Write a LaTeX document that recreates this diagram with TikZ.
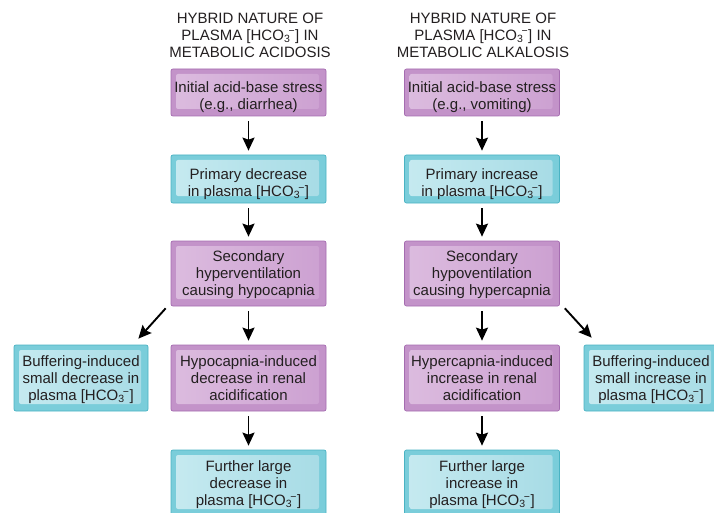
\documentclass[tikz,border=0pt]{standalone}
\usepackage{fontspec}
\setmainfont{Liberation Sans}
\usetikzlibrary{arrows.meta}

\definecolor{textgray}{HTML}{231F20}
\definecolor{purpleedge}{HTML}{A56CB0}
\definecolor{purpleouter}{HTML}{C393C9}
\definecolor{purpleinnerA}{HTML}{DCBCDF}
\definecolor{purpleinnerB}{HTML}{CCA0D1}
\definecolor{cyanedge}{HTML}{4AB3C3}
\definecolor{cyanouter}{HTML}{7ACDDA}
\definecolor{cyaninnerA}{HTML}{C6EAF0}
\definecolor{cyaninnerB}{HTML}{A6DBE5}

\newcommand{\bicarb}{[HCO\textsubscript{3}\kern-0.12em\textsuperscript{−}]}

\begin{document}
\begin{tikzpicture}[x=1pt,y=-1pt,
    font=\fontsize{15}{17}\selectfont, text=textgray,
    flowbox/.style={rounded corners=2pt, line width=0.7pt, align=center,
        inner sep=0pt, minimum width=155pt, text depth=0pt},
    twoline/.style={text height=35pt},
    purplebox/.style={flowbox, draw=purpleedge, fill=purpleouter,
        path picture={\shade[left color=purpleinnerA, right color=purpleinnerB, rounded corners=2pt]
            ([shift={(5,5)}]path picture bounding box.north west) rectangle
            ([shift={(-7,-7)}]path picture bounding box.south east);}},
    cyanbox/.style={flowbox, draw=cyanedge, fill=cyanouter,
        path picture={\shade[left color=cyaninnerA, right color=cyaninnerB, rounded corners=2pt]
            ([shift={(5,5)}]path picture bounding box.north west) rectangle
            ([shift={(-7,-7)}]path picture bounding box.south east);}},
    flowarrow/.style={-{Stealth[length=13pt,width=12pt,inset=2pt]}, line width=1.9pt, black,
        shorten <=5pt, shorten >=4pt}
]

    \useasboundingbox (0,0) rectangle (714,513);
    \clip (0,0) rectangle (714,513);

    % Titres
    \node[align=center] (acidTitle) at (250,35) {HYBRID NATURE OF\\PLASMA \bicarb{} IN\\METABOLIC ACIDOSIS};
    \node[align=center] (alkTitle) at (483,35) {HYBRID NATURE OF\\PLASMA \bicarb{} IN\\METABOLIC ALKALOSIS};

    % ---- Acidose ----
    \node[purplebox, twoline, minimum height=47pt] (acidStress) at (248.5,92.5) {Initial acid-base stress\\(e.g., diarrhea)};
    \node[cyanbox, twoline, minimum height=48pt] (acidPrimary) at (248.5,179) {Primary decrease\\in plasma \bicarb};
    \node[purplebox, minimum height=65pt] (acidSecondary) at (248.5,273.5) {Secondary\\hyperventilation\\causing hypocapnia};
    \node[cyanbox, minimum height=66pt, minimum width=134pt] (acidBuffer) at (81,378) {Buffering-induced\\small decrease in\\plasma \bicarb};
    \node[purplebox, minimum height=66pt] (acidRenal) at (248.5,378) {Hypocapnia-induced\\decrease in renal\\acidification};
    \node[cyanbox, minimum height=66pt] (acidFurther) at (248.5,483) {Further large\\decrease in\\plasma \bicarb};

    % ---- Alcalose ----
    \node[purplebox, twoline, minimum height=47pt] (alkStress) at (482,92.5) {Initial acid-base stress\\(e.g., vomiting)};
    \node[cyanbox, twoline, minimum height=48pt] (alkPrimary) at (482,179) {Primary increase\\in plasma \bicarb};
    \node[purplebox, minimum height=65pt] (alkSecondary) at (482,273.5) {Secondary\\hypoventilation\\causing hypercapnia};
    \node[purplebox, minimum height=66pt] (alkRenal) at (482,378) {Hypercapnia-induced\\increase in renal\\acidification};
    \node[cyanbox, minimum height=66pt, minimum width=134pt] (alkBuffer) at (651,378) {Buffering-induced\\small increase in\\plasma \bicarb};
    \node[cyanbox, minimum height=66pt] (alkFurther) at (482,483) {Further large\\increase in\\plasma \bicarb};

    % Fleches
    \draw[flowarrow] (acidStress) -- (acidPrimary);
    \draw[flowarrow] (acidPrimary) -- (acidSecondary);
    \draw[flowarrow] (acidSecondary) -- (acidRenal);
    \draw[flowarrow] (acidRenal) -- (acidFurther);
    \draw[flowarrow, shorten <=0pt, shorten >=0pt] ([shift={(-5,2)}]acidSecondary.south west) -- ([shift={(-10,-6)}]acidBuffer.north east);

    \draw[flowarrow] (alkStress) -- (alkPrimary);
    \draw[flowarrow] (alkPrimary) -- (alkSecondary);
    \draw[flowarrow] (alkSecondary) -- (alkRenal);
    \draw[flowarrow] (alkRenal) -- (alkFurther);
    \draw[flowarrow, shorten <=0pt, shorten >=0pt] ([shift={(5,2)}]alkSecondary.south east) -- ([shift={(8,-7)}]alkBuffer.north west);

\end{tikzpicture}
\end{document}
